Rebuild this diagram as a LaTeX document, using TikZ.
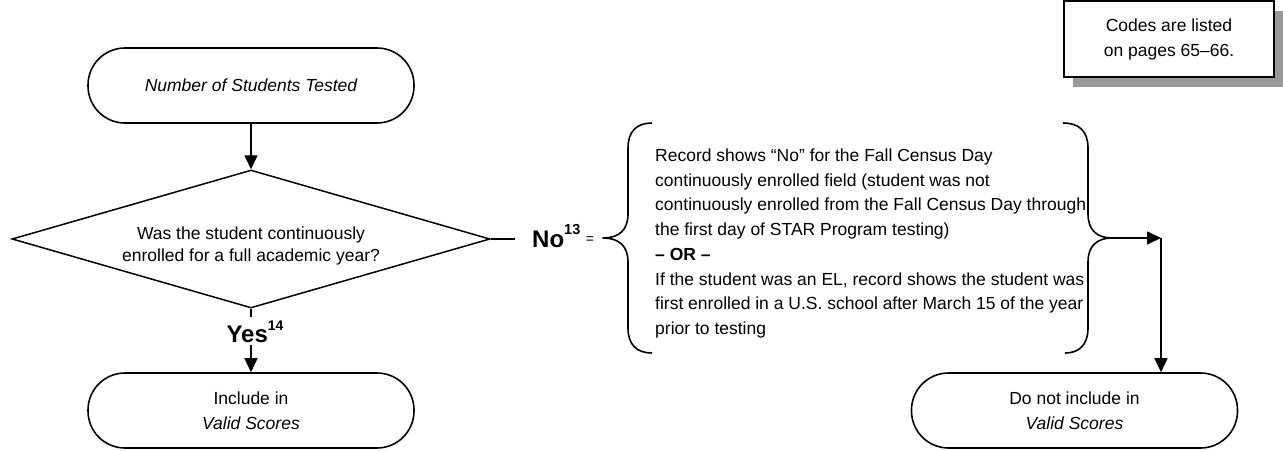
\documentclass[tikz,border=0pt]{standalone}
\usepackage{fontspec}
\setmainfont{Liberation Sans}
\usetikzlibrary{arrows.meta,shapes.geometric,shadows}
\begin{document}
\begin{tikzpicture}[x=1pt,y=-1pt,
  term/.style={draw, line width=1.6pt, rounded corners=37pt,
    minimum width=326pt, minimum height=75pt, inner sep=0pt,
    align=center, font=\fontsize{17.5}{25}\selectfont},
  conn/.style={line width=1.6pt},
  arr/.style={line width=1.6pt, -{Triangle[length=14pt,width=13pt]}},
  bracepath/.style={line width=1.6pt, line join=round},
  body/.style={inner sep=0pt, font=\fontsize{17.5}{24.7}\selectfont},
  lbl/.style={inner sep=0pt, font=\bfseries}
]
\useasboundingbox (0,0) rectangle (1283,450);

% note box with drop shadow
\node[draw, line width=1.4pt, fill=white, minimum width=210pt, minimum height=76pt,
  align=center, font=\fontsize{17.5}{25}\selectfont,
  drop shadow={shadow xshift=9pt, shadow yshift=-10pt, fill=black!40, opacity=1}]
  (codes) at (1169,39) {Codes are listed\\on pages 65--66.};

% main flow
\node[term, font=\fontsize{17.5}{25}\selectfont\itshape] (start) at (251,85.5) {Number of Students Tested};
\node[diamond, draw, line width=1.5pt, minimum width=478pt, minimum height=138pt, inner sep=0pt] (q) at (251,239) {};
\node[inner sep=0pt, align=center, font=\fontsize{17.5}{22}\selectfont] (qtext) at (251,246)
  {Was the student continuously\\enrolled for a full academic year?};
\node[term] (inc) at (251,410.5) {Include in\\\textit{Valid Scores}};
\node[term] (dni) at (1074.5,410.5) {Do not include in\\\textit{Valid Scores}};

\draw[arr] (start.south) -- (q.north);

% yes branch
\node[anchor=base, inner xsep=0pt, inner ysep=3pt, font=\bfseries] (yes) at (255,342)
  {\fontsize{24}{24}\selectfont Yes\raisebox{12pt}{\fontsize{14}{14}\selectfont 14}};
\draw[conn] (q.south) -- (q.south |- yes.north);
\draw[arr] (yes.south -| inc.north) -- (inc.north);

% no branch
\coordinate (noend) at (515,239);
\draw[conn] (q.east) -- (noend);
\node[anchor=base west, lbl] (nolab) at (532,247)
  {\fontsize{24}{24}\selectfont No\raisebox{13pt}{\fontsize{14.5}{14.5}\selectfont 13}};
\node[anchor=base, inner sep=0pt, font=\fontsize{14}{14}\selectfont] (eq) at (590,243) {=};

% conditions inside the braces
\node[anchor=west, body, align=left] (cond) at (655,243.5)
  {Record shows “No” for the Fall Census Day\\
   continuously enrolled field (student was not\\
   continuously enrolled from the Fall Census Day through\\
   the first day of STAR Program testing)\\
   \textbf{-- OR --}\\
   If the student was an EL, record shows the student was\\
   first enrolled in a U.S. school after March 15 of the year\\
   prior to testing};

% left brace
\coordinate (ltip) at (603,238);
\draw[bracepath] (652,123) .. controls (637,123) and (628,131) .. (628,148)
  -- (628,214) .. controls (628,230) and (619,238) .. (ltip)
  .. controls (619,238) and (628,246) .. (628,262)
  -- (628,328) .. controls (628,345) and (637,353) .. (652,353);

% right brace
\coordinate (rtip) at (1112,238);
\draw[bracepath] (1063,123) .. controls (1079,123) and (1088,131) .. (1088,148)
  -- (1088,214) .. controls (1088,230) and (1097,238) .. (rtip)
  .. controls (1097,238) and (1088,246) .. (1088,262)
  -- (1088,328) .. controls (1088,345) and (1079,353) .. (1065,353);

% path to the exclusion terminal
\coordinate (corner) at (1161,238);
\draw[arr] (rtip) -- (corner);
\draw[arr] (corner) -- (corner |- dni.north);
\end{tikzpicture}
\end{document}
